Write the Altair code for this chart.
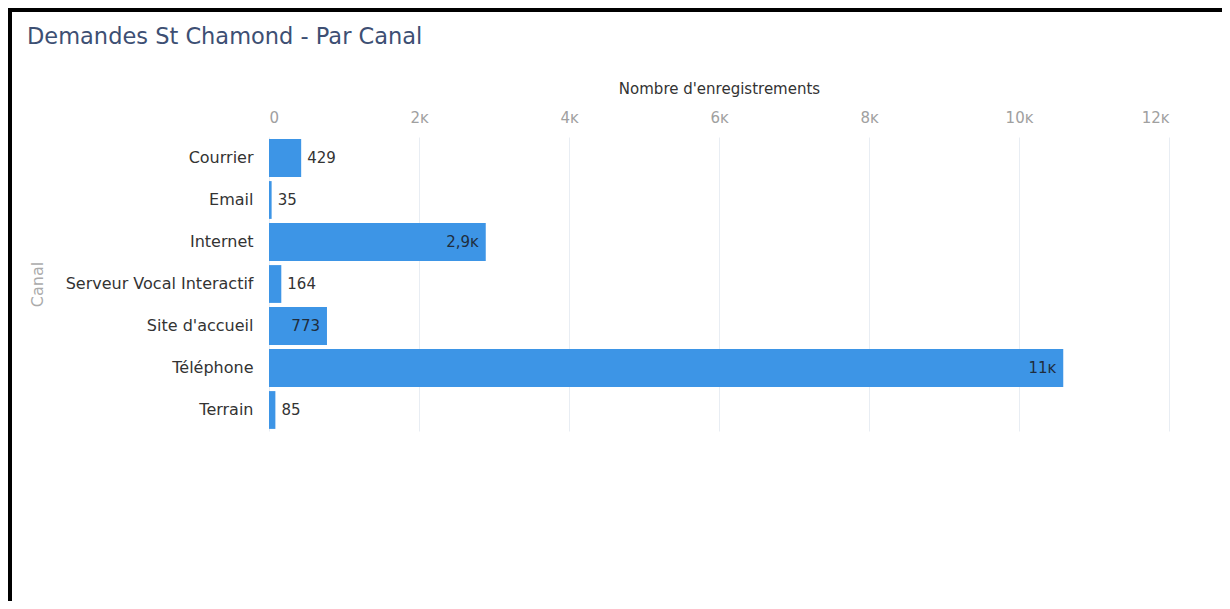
import altair as alt
import pandas as pd

TITLE = "Demandes St Chamond - Par Canal"
canaux = ["Courrier", "Email", "Internet", "Serveur Vocal Interactif",
          "Site d'accueil", "Téléphone", "Terrain"]
valeurs = [429, 35, 2890, 164, 773, 10590, 85]
x_title = "Nombre d'enregistrements"
y_title = "Canal"
tick_values = [0, 2000, 4000, 6000, 8000, 10000, 12000]

df = pd.DataFrame({"canal": canaux, "n": valeurs})

FONT = "DejaVu Sans"
K = "\u1d0b"

base = alt.Chart(df).transform_calculate(
    label=f"datum.n >= 1000 ? replace(format(datum.n/1000, '.2~r'), '.', ',') + '{K}' : format(datum.n, 'd')"
)

x_enc = alt.X(
    "n:Q",
    scale=alt.Scale(domain=[0, 12000], nice=False),
    axis=alt.Axis(
        orient="top", values=tick_values, title=x_title,
        labelExpr=f"datum.value == 0 ? '0' : (datum.value/1000) + '{K}'",
        labelFlush=True, ticks=False, tickSize=0, domain=False,
        labelPadding=12, labelColor="#a0a0a0", labelFont=FONT, labelFontSize=15,
        titleFont=FONT, titleFontSize=15, titleFontWeight="normal",
        titleColor="#333333", titleY=-49, titleBaseline="middle",
        gridColor="#e8edf3", gridWidth=1,
    ),
)
y_enc = alt.Y(
    "canal:N", sort=canaux,
    scale=alt.Scale(paddingInner=0.1, paddingOuter=0.05),
    axis=alt.Axis(
        title=y_title, ticks=False, tickSize=0, domain=False, grid=False,
        labelPadding=16, labelFont=FONT, labelFontSize=16, labelColor="#333333",
        labelLimit=300,
        titleFont=FONT, titleFontSize=16, titleFontWeight="normal",
        titleColor="#aaaaaa", titleX=-232, titleY=147, titleBaseline="middle",
        titleAlign="center", titleAngle=270,
    ),
)

bars = base.mark_bar(color="#3d95e6").encode(x=x_enc, y=y_enc)

inside = base.transform_filter("datum.n >= 700").mark_text(
    align="right", baseline="middle", dx=-7, font=FONT, fontSize=15, color="#1f2d3d"
).encode(x="n:Q", y=alt.Y("canal:N", sort=canaux), text="label:N")

outside = base.transform_filter("datum.n < 700").mark_text(
    align="left", baseline="middle", dx=6, font=FONT, fontSize=15, color="#333333"
).encode(x="n:Q", y=alt.Y("canal:N", sort=canaux), text="label:N")

title = alt.Chart(alt.Data(values=[{"t": TITLE}])).mark_text(
    align="left", baseline="alphabetic", font=FONT, fontSize=22.5, color="#3d4f73"
).encode(text="t:N", x=alt.value(-242), y=alt.value(-93))

border_left = alt.Chart(alt.Data(values=[{"k": 1}])).mark_rule(
    color="#000000", strokeWidth=4
).encode(x=alt.value(-259), y=alt.value(-129), y2=alt.value(464))

border_top = alt.Chart(alt.Data(values=[{"k": 1}])).mark_rule(
    color="#000000", strokeWidth=4
).encode(x=alt.value(-261), x2=alt.value(953), y=alt.value(-127))

chart = alt.layer(bars, inside, outside, title, border_left, border_top).properties(
    width=900, height=294,
    autosize=alt.AutoSizeParams(type="none"),
    padding={"left": 261, "top": 129, "right": 53, "bottom": 170},
).configure(background="white", view=alt.ViewConfig(stroke=None, strokeWidth=0))

chart.save("out.html", embed_options={"renderer": "svg", "actions": False})
